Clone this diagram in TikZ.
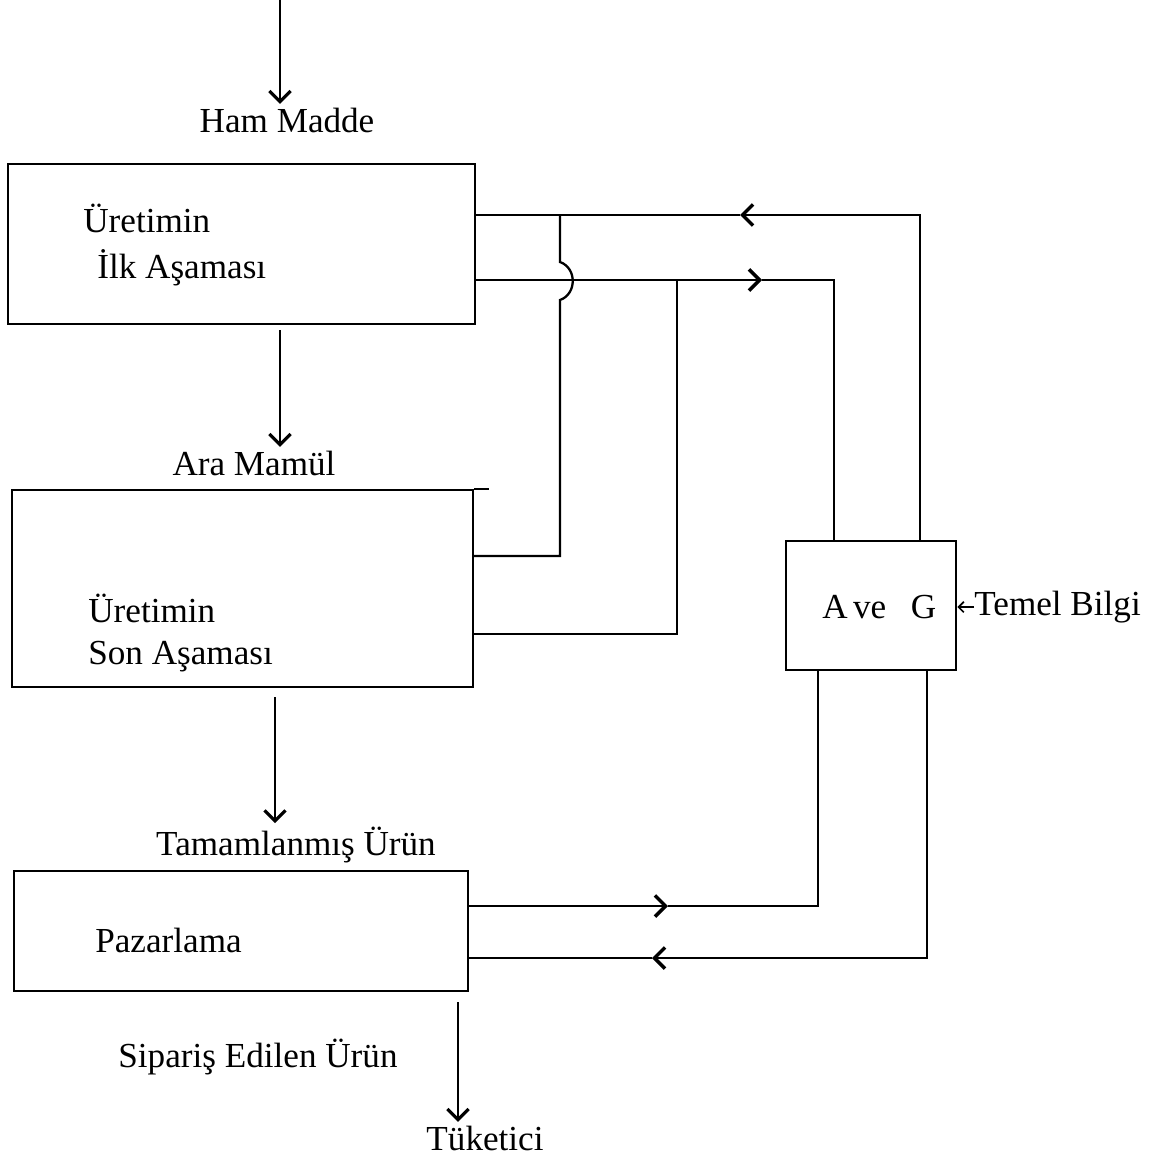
\documentclass[tikz,border=0pt]{standalone}
\usepackage{fontspec}
\setmainfont{Liberation Serif}
\usetikzlibrary{arrows.meta,positioning}
\tikzset{
 akis kutu/.style={draw,line width=1.3pt,anchor=north west,inner sep=0pt},
 akis hat/.style={line width=1.3pt},
 akis ok/.style={line width=1.3pt,-{Straight Barb[length=6pt,width=12pt,line width=2pt]}},
 akis inis/.style={line width=0.9pt,-{Straight Barb[length=6pt,width=12pt,line width=1.8pt]}},
 akis etiket/.style={font=\fontsize{20}{24}\selectfont,inner sep=2pt},
 akis metin/.style={font=\fontsize{20}{24}\selectfont,inner sep=0pt,anchor=west}
}
\begin{document}
\begin{tikzpicture}[x=0.02cm,y=-0.02cm]
 \useasboundingbox (0,0) rectangle (1153,1156);

 % Production stages and the control box.
 \node[akis kutu,minimum width=9.34cm,minimum height=3.2cm] (ilk) at (7,163) {};
 \node[akis kutu,minimum width=9.22cm,minimum height=3.94cm] (son) at (11,489) {};
 \node[akis kutu,minimum width=9.08cm,minimum height=2.4cm] (paz) at (13,870) {};
 \node[akis kutu,minimum width=3.4cm,minimum height=2.58cm] (ag) at (785,540) {};

 \node[akis metin] (ilka) at (83,218) {Üretimin};
 \node[akis metin] (ilkb) at (97,268) {İlk Aşaması};
 \node[akis metin] (sona) at (88,608) {Üretimin};
 \node[akis metin] (sonb) at (88,657) {Son Aşaması};
 \node[akis metin] (pazt) at (95,940) {Pazarlama};
 \node[akis metin] (agt) at (822,607) {A\hspace{3pt}ve\hspace{14pt}G};

 \node[akis etiket] (ham) at (287,120) {Ham Madde};
 \node[akis etiket] (ara) at (254,463) {Ara Mamül};
 \node[akis etiket] (tam) at (296,845) {Tamamlanmış Ürün};
 \node[akis etiket] (sip) at (258,1057) {Sipariş Edilen Ürün};
 \node[akis etiket] (tuk) at (485,1138) {Tüketici};
 \node[akis metin] (temel) at (974,607) {Temel Bilgi};

 % Main material flow.
 \coordinate (k0) at (280,0);
 \coordinate (k1) at (280,330);
 \coordinate (k2) at (275,697);
 \coordinate (k3) at (458,1002);
 \draw[akis inis] (k0) -- (k0 |- ham.north);
 \draw[akis inis] (k1) -- (k1 |- ara.north);
 \draw[akis inis] (k2) -- (k2 |- tam.north);
 \draw[akis inis] (k3) -- (k3 |- tuk.north);
 \draw[akis hat,-{Straight Barb[length=3pt,width=6pt,line width=1pt]}]
   (temel.west) -- (temel.west -| ag.east);
 \draw[akis hat] (son.north east) -- ++(15,0);

 % Information lines to and from A ve G.
 \coordinate (g1) at (920,215);
 \coordinate (o1) at (740,215);
 \coordinate (d1) at (560,215);
 \coordinate (h1) at (560,262);
 \coordinate (h2) at (560,300);
 \coordinate (d2) at (560,556);
 \coordinate (g2) at (834,280);
 \coordinate (o2) at (762,280);
 \coordinate (d3) at (677,280);
 \coordinate (d4) at (677,634);
 \coordinate (g3) at (818,906);
 \coordinate (o3) at (668,906);
 \coordinate (g4) at (927,958);
 \coordinate (o4) at (652,958);

 \draw[akis ok] (ag.north -| g1) -- (g1) -- (o1);
 \draw[akis hat] (o1) -- (o1 -| ilk.east);
 \draw[akis hat] (d1) -- (h1) .. controls +(17,6) and +(17,-6) .. (h2)
   -- (d2) -- (d2 -| son.east);
 \draw[akis ok] (ilk.east |- g2) -- (o2);
 \draw[akis hat] (o2) -- (g2) -- (g2 |- ag.north);
 \draw[akis hat] (d3) -- (d4) -- (d4 -| son.east);

 \draw[akis ok] (paz.east |- g3) -- (o3);
 \draw[akis hat] (o3) -- (g3) -- (g3 |- ag.south);
 \draw[akis ok] (ag.south -| g4) -- (g4) -- (o4);
 \draw[akis hat] (o4) -- (o4 -| paz.east);
\end{tikzpicture}
\end{document}
